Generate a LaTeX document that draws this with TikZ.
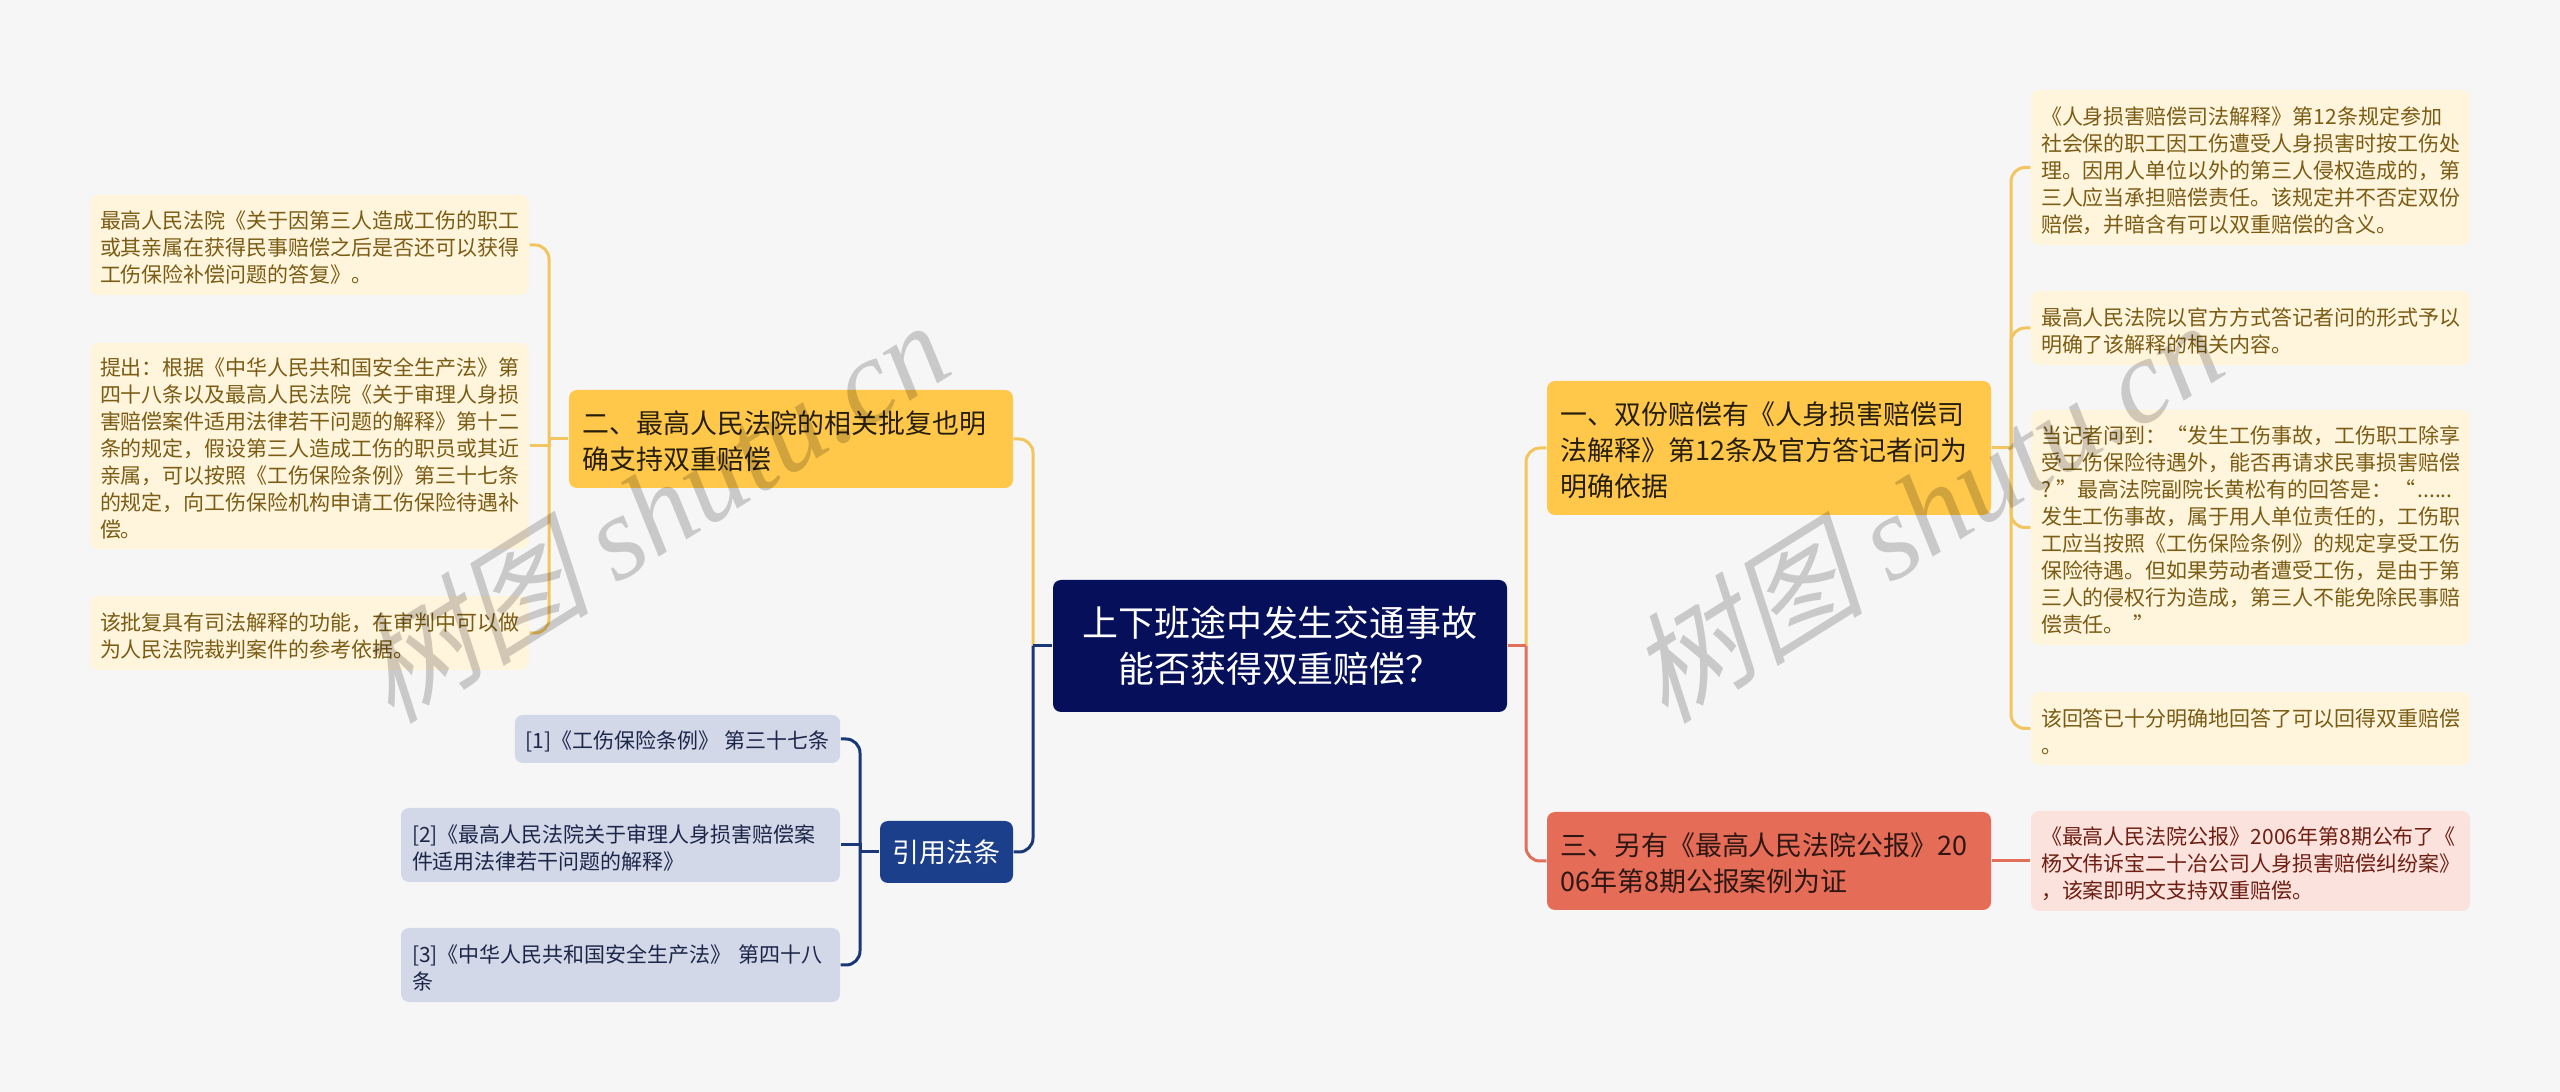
\documentclass[tikz,border=0pt]{standalone}
\usepackage{fontspec}
\setmainfont{Noto Sans CJK SC}
\newfontfamily\wmcjk[FakeSlant=0.25]{Noto Sans CJK SC}
\newfontfamily\wmlat[ItalicFont=*]{Liberation Serif Italic}
\usetikzlibrary{positioning}
\definecolor{bgcol}{HTML}{F6F6F6}
\definecolor{rootcol}{HTML}{050F5A}
\definecolor{yelcol}{HTML}{FFC84A}
\definecolor{yelline}{HTML}{F3C55F}
\definecolor{yelleaf}{HTML}{FFF4DC}
\definecolor{yeltext}{HTML}{7A5C14}
\definecolor{redcol}{HTML}{E56D58}
\definecolor{redline}{HTML}{E0705A}
\definecolor{redleaf}{HTML}{FBE2DD}
\definecolor{redtext}{HTML}{6E1E12}
\definecolor{bluecol}{HTML}{1C3F8C}
\definecolor{blueline}{HTML}{1A3878}
\definecolor{blueleaf}{HTML}{D2D8E8}
\definecolor{bluetext}{HTML}{1C2648}
\def\qo{\makebox[1em][r]{“}}
\tikzset{
	box/.style={rounded corners=0.08cm, inner ysep=0, align=left},
	rootbox/.style={box, fill=rootcol, text=white, align=center, text width=4.54cm, inner xsep=0,
		minimum height=1.32cm, font=\fontsize{10.23}{13.08}\selectfont},
	bigbox/.style={box, text width=4.17cm, inner xsep=0.135cm, minimum height=0.98cm,
		execute at begin node={\rule{0pt}{7.65pt}}, font=\fontsize{7.66}{10.24}\selectfont},
	yelbox/.style={bigbox, fill=yelcol, text=black!85!yelcol},
	redbox/.style={bigbox, fill=redcol, text=black!80!redcol},
	bluebox/.style={box, fill=bluecol, text=white, minimum width=1.33cm, minimum height=0.62cm,
		align=center, inner xsep=0, font=\fontsize{7.66}{10.24}\selectfont},
	leaf/.style={box, text width=4.19cm, inner xsep=0.1cm, execute at begin node={\rule{0pt}{6.7pt}},
		font=\fontsize{5.97}{7.68}\selectfont},
	yelleafbox/.style={leaf, fill=yelleaf, text=yeltext},
	redleafbox/.style={leaf, fill=redleaf, text=redtext},
	citebox/.style={box, fill=blueleaf, text=bluetext, inner xsep=0.11cm, execute at begin node={\rule{0pt}{6.7pt}},
		font=\fontsize{5.97}{7.68}\selectfont},
	link/.style={line width=0.03cm, rounded corners=0.14cm},
	wmark/.style={text=black, opacity=0.18, rotate=32, font=\fontsize{34}{34}\selectfont},
}

\begin{document}
\begin{tikzpicture}
			%%%%% START %%%%%
			\fill[bgcol] (0, 0) rectangle (25.6, -10.92);
			\path[use as bounding box] (0, 0) rectangle (25.6, -10.92);

			\node[rootbox] (root) at (12.8, -6.46) {上下班途中发生交通事故\\能否获得双重赔偿？};

			\node[yelbox] (one) at (17.69, -4.48) [minimum height=1.34cm] {一、双份赔偿有《人身损害赔偿司\\法解释》第12条及官方答记者问为\\明确依据};
			\node[redbox] (three) at (17.69, -8.61) {三、另有《最高人民法院公报》20\\06年第8期公报案例为证};
			\node[yelbox] (two) at (7.91, -4.39) {二、最高人民法院的相关批复也明\\确支持双重赔偿};
			\node[bluebox] (cite) at (9.465, -8.52) {引用法条};

			\node[yelleafbox, minimum height=1.55cm] (r1) at (22.505, -1.675) {《人身损害赔偿司法解释》第12条规定参加\\社会保的职工因工伤遭受人身损害时按工伤处\\理。因用人单位以外的第三人侵权造成的，第\\三人应当承担赔偿责任。该规定并不否定双份\\赔偿，并暗含有可以双重赔偿的含义。};
			\node[yelleafbox, minimum height=0.74cm] (r2) at (22.505, -3.28) {最高人民法院以官方方式答记者问的形式予以\\明确了该解释的相关内容。};
			\node[yelleafbox, minimum height=2.35cm] (r3) at (22.505, -5.275) {当记者问到：\qo 发生工伤事故，工伤职工除享\\受工伤保险待遇外，能否再请求民事损害赔偿\\\mbox{\makebox[0.75em][l]{?}\makebox[1em][l]{”}最高法院副院长黄松有的回答是：\hspace{0.1em}“\hspace{0.1em}......}\\发生工伤事故，属于用人单位责任的，工伤职\\工应当按照《工伤保险条例》的规定享受工伤\\保险待遇。但如果劳动者遭受工伤，是由于第\\三人的侵权行为造成，第三人不能免除民事赔\\偿责任。\hspace{0.4em}”};
			\node[yelleafbox, minimum height=0.73cm] (r4) at (22.505, -7.285) {该回答已十分明确地回答了可以回得双重赔偿\\。};
			\node[redleafbox, minimum height=1.0cm] (r5) at (22.505, -8.61) {《最高人民法院公报》2006年第8期公布了《\\杨文伟诉宝二十冶公司人身损害赔偿纠纷案》\\，该案即明文支持双重赔偿。};

			\node[yelleafbox, minimum height=1.0cm] (l1) at (3.095, -2.45) {最高人民法院《关于因第三人造成工伤的职工\\或其亲属在获得民事赔偿之后是否还可以获得\\工伤保险补偿问题的答复》。};
			\node[yelleafbox, minimum height=2.06cm] (l2) at (3.095, -4.46) {提出：根据《中华人民共和国安全生产法》第\\四十八条以及最高人民法院《关于审理人身损\\害赔偿案件适用法律若干问题的解释》第十二\\条的规定，假设第三人造成工伤的职员或其近\\亲属，可以按照《工伤保险条例》第三十七条\\的规定，向工伤保险机构申请工伤保险待遇补\\偿。};
			\node[yelleafbox, minimum height=0.74cm] (l3) at (3.095, -6.33) {该批复具有司法解释的功能，在审判中可以做\\为人民法院裁判案件的参考依据。};

			\node[citebox, minimum width=3.25cm, minimum height=0.48cm] (c1) at (6.775, -7.39) {[1]《工伤保险条例》 第三十七条};
			\node[citebox, text width=4.17cm, minimum height=0.74cm] (c2) at (6.205, -8.45) {[2]《最高人民法院关于审理人身损害赔偿案\\件适用法律若干问题的解释》};
			\node[citebox, text width=4.17cm, minimum height=0.74cm] (c3) at (6.205, -9.65) {[3]《中华人民共和国安全生产法》 第四十八\\条};

			\coordinate (jroot) at (15.26, -6.46);
			\coordinate (jleft) at (10.33, -6.46);
			\coordinate (jone) at (20.11, -4.48);
			\coordinate (jtwo) at (5.49, -4.39);
			\coordinate (jcite) at (8.6, -8.52);

			\draw[link, yelline] (jroot) |- (one.west);
			\draw[link, redline] (jroot) |- (three.west);
			\draw[redline, line width=0.03cm] (root.east) -- (jroot);
			\draw[link, yelline] (jleft) |- (two.east);
			\draw[link, blueline] (jleft) |- (cite.east);
			\draw[blueline, line width=0.03cm] (root.west) -- (jleft);

			\draw[yelline, line width=0.03cm] (one.east) -- (jone);
			\draw[link, yelline] (jone) |- (r1.west);
			\draw[link, yelline] (jone) |- (r2.west);
			\draw[link, yelline] (jone) |- (r3.west);
			\draw[link, yelline] (jone) |- (r4.west);
			\draw[redline, line width=0.03cm] (three.east) -- (r5.west);

			\draw[yelline, line width=0.03cm] (two.west) -- (jtwo);
			\draw[link, yelline] (jtwo) |- (l1.east);
			\draw[link, yelline, sharp corners] (jtwo) |- (l2.east);
			\draw[link, yelline] (jtwo) |- (l3.east);

			\draw[blueline, line width=0.03cm] (cite.west) -- (jcite);
			\draw[link, blueline] (jcite) |- (c1.east);
			\draw[link, blueline, sharp corners] (jcite) |- (c2.east);
			\draw[link, blueline] (jcite) |- (c3.east);

			\node[wmark] (wma) at (6.5, -5.1) {\wmcjk 树图 \wmlat shutu.cn};
			\node[wmark] (wmb) at (19.24, -5.1) {\wmcjk 树图 \wmlat shutu.cn};
			%%%%% END %%%%%
\end{tikzpicture}
\end{document}
